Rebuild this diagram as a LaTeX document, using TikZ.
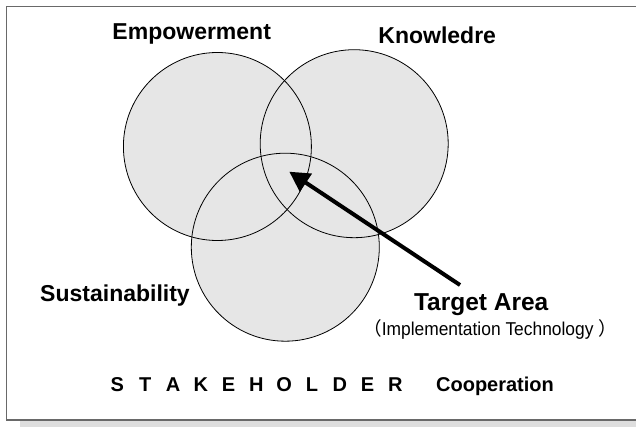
\documentclass[tikz,border=0pt]{standalone}
\usepackage{fontspec}
\setmainfont{Liberation Sans}
\newfontfamily\narrowfont[FakeStretch=0.935]{Liberation Sans}
\newfontfamily\cjkfont{Noto Sans CJK JP}
\usetikzlibrary{arrows.meta}
\definecolor{vennfill}{RGB}{230,230,230}
\definecolor{framegray}{RGB}{105,105,105}
\definecolor{shadowgray}{RGB}{222,222,222}
\tikzset{
  venn/.style={circle, minimum size=188pt, inner sep=0pt, fill=vennfill},
  ring/.style={draw=black, line width=0.8pt},
  label/.style={anchor=base, inner sep=0pt, font=\bfseries\fontsize{23}{23}\selectfont},
  bottomtext/.style={anchor=base, inner sep=0pt, font=\bfseries\fontsize{20}{20}\selectfont},
  pointer/.style={line width=4pt, -{Triangle[length=20pt,width=21pt]}}
}
\begin{document}
\begin{tikzpicture}[x=1pt, y=-1pt]
  \useasboundingbox (0,0) rectangle (636,427);
  \clip (0,0) rectangle (636,427);
  % frame with drop shadow
  \fill[shadowgray] (20,421) rectangle (640,428);
  \draw[framegray, line width=1.6pt] (645,6.5) -- (6.5,6.5) -- (6.5,420) -- (645,420);

  % the three sets
  \node[venn] (E) at (217.4,146.5) {};
  \node[venn] (K) at (354.2,143.7) {};
  \node[venn] (S) at (285.3,247.2) {};
  \foreach \n in {E,K,S}
    \draw[ring] (\n.center) circle[radius=94];

  % set labels
  \node[label] (emp) at (191.7,40) {Empowerment};
  \node[label] (know) at (437.2,43.3) {Knowledre};
  \node[label] (sust) at (115,301.7) {Sustainability};

  % target area
  \node[label, font=\bfseries\fontsize{24.5}{24.5}\selectfont] (target) at (481.2,310) {Target Area};
  \node[anchor=base west, inner sep=0pt, font=\fontsize{18.6}{18.6}\selectfont] (impl) at (363,335)
    {{\cjkfont （}{\narrowfont Implementation Technology }{\cjkfont ）}};

  \coordinate (tail) at (460,285);
  \coordinate (tip) at (289.3,171.7);
  \draw[pointer] (tail) -- (tip);

  % bottom caption
  \foreach \ch [count=\i from 0] in {S,T,A,K,E,H,O,L,D,E,R}
    \node[bottomtext] (st\i) at (117.4+27.8*\i,391.7) {\ch};
  \node[bottomtext] (coop) at (495,391.7) {Cooperation};
\end{tikzpicture}
\end{document}
